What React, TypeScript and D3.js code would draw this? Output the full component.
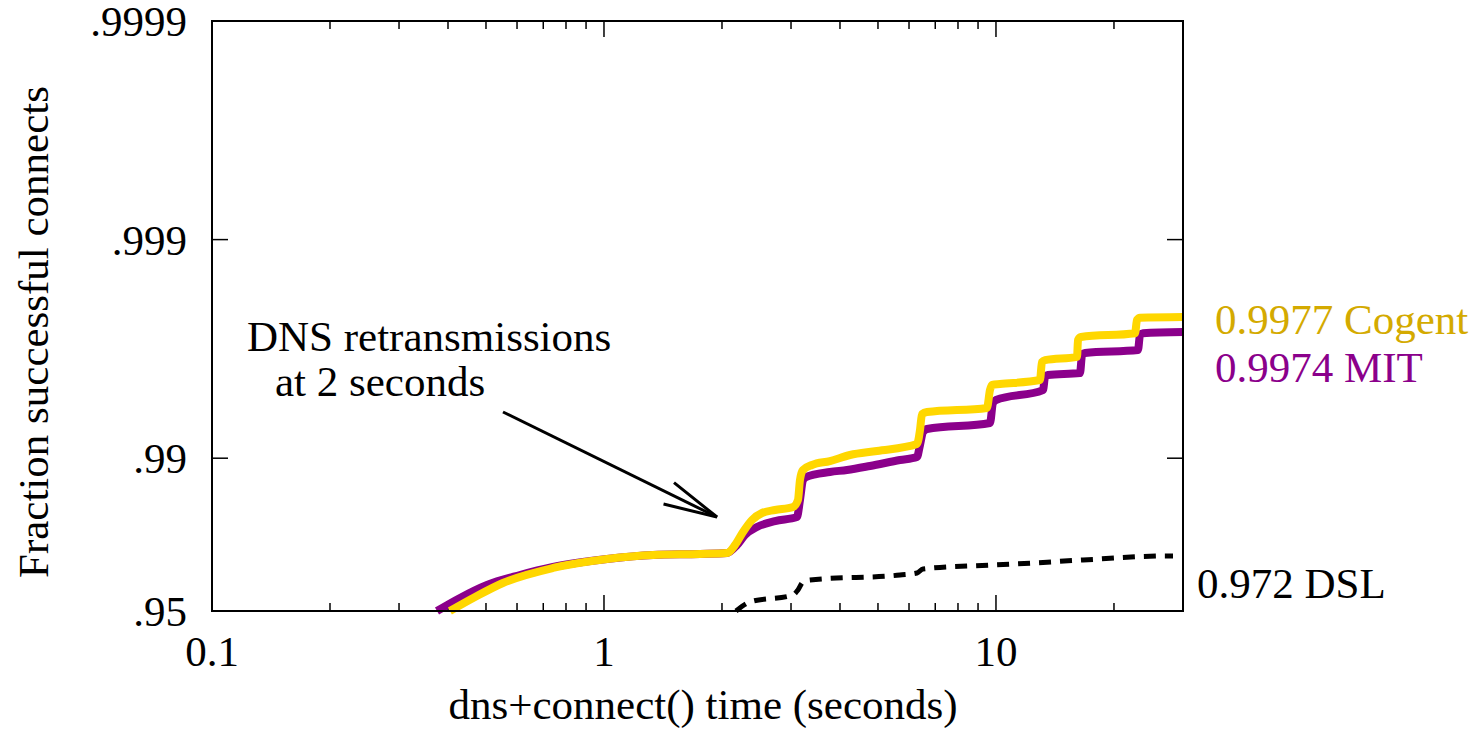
import React from "react";
import * as d3 from "d3";

// ---- data (seconds, fraction successful) ----
const cogentX = [0.4046, 0.4689, 0.5523, 0.741, 1.018, 1.334, 1.758, 2.06, 2.159, 2.263, 2.386, 2.53, 2.731, 3.035, 3.125, 3.162, 3.219, 3.393, 3.771, 4.243, 4.971, 6.289, 6.4, 6.476, 6.668, 9.484, 9.654, 9.768, 10.24, 12.95, 13.1, 13.34, 16.1, 16.19, 16.48, 22.63, 22.9, 23.3, 29.99];
const cogentY = [0.95, 0.95685, 0.96277, 0.96822, 0.97109, 0.97229, 0.97258, 0.97286, 0.97505, 0.97825, 0.98083, 0.98219, 0.98274, 0.98329, 0.98447, 0.98742, 0.98868, 0.98926, 0.9897, 0.99033, 0.99073, 0.99139, 0.99257, 0.99372, 0.99385, 0.99411, 0.99512, 0.99538, 0.99542, 0.99561, 0.99637, 0.99644, 0.99656, 0.99712, 0.99721, 0.99732, 0.99767, 0.99772, 0.99774];

const mitX = [0.375, 0.4292, 0.5029, 0.6104, 0.741, 1.018, 1.334, 1.758, 2.06, 2.185, 2.29, 2.456, 2.731, 3.107, 3.162, 3.219, 3.276, 3.771, 4.168, 4.771, 5.69, 6.289, 6.4, 6.513, 6.668, 9.654, 9.825, 10.0, 13.18, 13.34, 13.57, 16.38, 16.58, 16.87, 23.03, 23.3, 23.71, 29.99];
const mitY = [0.95, 0.95641, 0.96198, 0.96578, 0.96856, 0.97109, 0.97229, 0.97258, 0.97286, 0.97505, 0.97755, 0.97936, 0.98062, 0.98142, 0.98447, 0.98742, 0.98781, 0.98844, 0.98868, 0.98915, 0.98981, 0.99013, 0.9913, 0.99241, 0.99265, 0.9931, 0.99441, 0.99458, 0.99512, 0.99575, 0.99584, 0.99592, 0.99663, 0.9967, 0.9968, 0.99727, 0.99732, 0.99735];

const dslX = [2.172, 2.357, 3.035, 3.125, 3.219, 3.353, 5.69, 6.289, 6.513, 9.825, 12.43, 16.67, 27.31, 28.29];
const dslY = [0.95, 0.95453, 0.95776, 0.95993, 0.96316, 0.96393, 0.96578, 0.96651, 0.96789, 0.96921, 0.96985, 0.97079, 0.97199, 0.97199];

const yTickValues = [0.95, 0.99, 0.999, 0.9999];
const yTickLabels = [".95", ".99", ".999", ".9999"];
const xMajorTicks = [0.1, 1, 10];
const xMajorLabels = ["0.1", "1", "10"];
const xMinorTicks = [0.2, 0.3, 0.4, 0.5, 0.6, 0.7, 0.8, 0.9, 2, 3, 4, 5, 6, 7, 8, 9, 20, 30];

const seriesLabels = [
  { text: "0.9977 Cogent", color: "#D4AA00" },
  { text: "0.9974 MIT", color: "#8B008B" },
  { text: "0.972 DSL", color: "#000000" },
];

// annotation: arrow from text toward the point where retransmissions start
const arrowTip = [1.942, 0.98142];

const W = 1475, H = 730;
const M = { left: 212, right: 1183, top: 21, bottom: 611 };
const FONT = '"Liberation Serif", "DejaVu Serif", serif';
const FS = 43;

export default function App() {
  const x = d3.scaleLog().domain([0.1, 30]).range([M.left, M.right]);
  const nines = (v: number) => -Math.log10(1 - v);
  const yl = d3.scaleLinear().domain([nines(0.95), nines(0.9999)]).range([M.bottom, M.top]);
  const y = (v: number) => yl(nines(v));

  const line = d3
    .line<[number, number]>()
    .x((d) => x(d[0]))
    .y((d) => y(d[1]))
    .curve(d3.curveMonotoneX);

  const zip = (a: number[], b: number[]) => a.map((v, i) => [v, b[i]] as [number, number]);

  const majLen = 16, minLen = 8;

  const ax0 = 503, ay0 = 412, ax1 = x(arrowTip[0]), ay1 = y(arrowTip[1]);
  const ang = Math.atan2(ay1 - ay0, ax1 - ax0);
  const hl = 55, ha = (12.5 * Math.PI) / 180;
  const b1 = [ax1 - hl * Math.cos(ang - ha), ay1 - hl * Math.sin(ang - ha)];
  const b2 = [ax1 - hl * Math.cos(ang + ha), ay1 - hl * Math.sin(ang + ha)];

  const ts: React.CSSProperties = { fontFamily: FONT, fontSize: FS };

  return (
    <svg width={W} height={H} style={{ position: "absolute", left: 0, top: 0, background: "#fff" }}>
      <rect x={0} y={0} width={W} height={H} fill="#fff" />
      <g stroke="#000" strokeWidth={1.5}>
        {xMajorTicks.map((t) => (
          <g key={"xm" + t}>
            <line x1={x(t)} x2={x(t)} y1={M.bottom} y2={M.bottom - majLen} />
            <line x1={x(t)} x2={x(t)} y1={M.top} y2={M.top + majLen} />
          </g>
        ))}
        {xMinorTicks.map((t) => (
          <g key={"xn" + t}>
            <line x1={x(t)} x2={x(t)} y1={M.bottom} y2={M.bottom - minLen} />
            <line x1={x(t)} x2={x(t)} y1={M.top} y2={M.top + minLen} />
          </g>
        ))}
        {yTickValues.map((t) => (
          <g key={"y" + t}>
            <line x1={M.left} x2={M.left + majLen} y1={y(t)} y2={y(t)} />
            <line x1={M.right} x2={M.right - majLen} y1={y(t)} y2={y(t)} />
          </g>
        ))}
      </g>
      <path d={line(zip(mitX, mitY)) || ""} fill="none" stroke="#8B008B" strokeWidth={8} strokeLinejoin="round" />
      <path d={line(zip(cogentX, cogentY)) || ""} fill="none" stroke="#FFD700" strokeWidth={8} strokeLinejoin="round" />
      <path d={line(zip(dslX, dslY)) || ""} fill="none" stroke="#000" strokeWidth={5} strokeDasharray="12,9" />
      <rect x={M.left} y={M.top} width={M.right - M.left} height={M.bottom - M.top} fill="none" stroke="#000" strokeWidth={2} />
      <g fill="#000">
        {yTickValues.map((t, i) => (
          <text key={"yl" + t} style={ts} x={187} y={y(t)} dy="0.35em" textAnchor="end">
            {yTickLabels[i]}
          </text>
        ))}
        {xMajorTicks.map((t, i) => (
          <text key={"xl" + t} style={ts} x={x(t)} y={666} textAnchor="middle">
            {xMajorLabels[i]}
          </text>
        ))}
        <text style={ts} x={703} y={719} textAnchor="middle">
          dns+connect() time (seconds)
        </text>
        <text style={ts} transform={`translate(48,332) rotate(-90)`} textAnchor="middle">
          Fraction successful connects
        </text>
        <text style={ts} x={247} y={351}>DNS retransmissions</text>
        <text style={ts} x={275} y={396}>at 2 seconds</text>
        <text style={ts} x={1215} y={334} fill={seriesLabels[0].color}>{seriesLabels[0].text}</text>
        <text style={ts} x={1215} y={382} fill={seriesLabels[1].color}>{seriesLabels[1].text}</text>
        <text style={ts} x={1197} y={598} fill={seriesLabels[2].color}>{seriesLabels[2].text}</text>
      </g>
      <g stroke="#000" strokeWidth={3} fill="none">
        <line x1={ax0} y1={ay0} x2={ax1} y2={ay1} />
        <polyline points={`${b1[0]},${b1[1]} ${ax1},${ay1} ${b2[0]},${b2[1]}`} />
      </g>
    </svg>
  );
}
